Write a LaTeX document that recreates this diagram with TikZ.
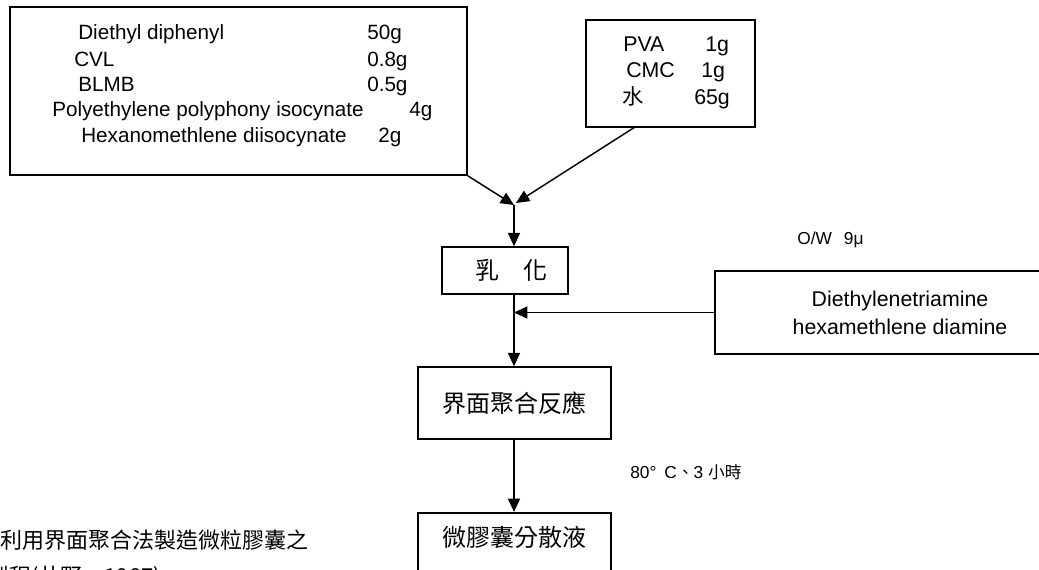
\documentclass[tikz,border=0pt]{standalone}
\usepackage{fontspec}
\setmainfont{Liberation Sans}
\newfontfamily\cjk{Noto Sans CJK TC}
\usetikzlibrary{arrows.meta}

\tikzset{
  box/.style={draw, line width=1.2pt, inner sep=4pt},
  row/.style={anchor=base west, inner sep=0pt, font=\fontsize{15.5}{18}\selectfont},
  rowb/.style={anchor=base west, inner sep=0pt, font=\fontsize{16}{19}\selectfont},
  cjkbox/.style={font=\cjk\fontsize{18}{22}\selectfont},
  note/.style={anchor=west, inner sep=0pt, font=\fontsize{13}{15}\selectfont},
  flow/.style={line width=1.1pt, -{Triangle[length=10pt,width=9pt]}},
}

\begin{document}
\begin{tikzpicture}[x=0.75pt, y=-0.75pt]
   \useasboundingbox (0,0) rectangle (1039,569);
   \clip (0,0) rectangle (1039,569);

   % 油相原料
   \node[box, minimum width=342.75pt, minimum height=126pt] (oil) at (238.5,91) {};
   \node[row] (r1) at (78,39) {Diethyl diphenyl};
   \node[row] (r1g) at (367,39) {50g};
   \node[row] (r2) at (74,66) {CVL};
   \node[row] (r2g) at (367,66) {0.8g};
   \node[row] (r3) at (78,91) {BLMB};
   \node[row] (r3g) at (367,91) {0.5g};
   \node[row] (r4) at (52,116) {Polyethylene polyphony isocynate};
   \node[row] (r4g) at (409,116) {4g};
   \node[row] (r5) at (81,142) {Hexanomethlene diisocynate};
   \node[row] (r5g) at (378,142) {2g};

   % 水相原料
   \node[box, minimum width=126.75pt, minimum height=80.25pt] (water) at (670.5,73.5) {};
   \node[rowb] (w1) at (623,51) {PVA};
   \node[rowb] (w1g) at (705,51) {1g};
   \node[rowb] (w2) at (626,77) {CMC};
   \node[rowb] (w2g) at (701,77) {1g};
   \node[rowb, font=\cjk\fontsize{16}{19}\selectfont] (w3) at (622,104) {水};
   \node[rowb] (w3g) at (694,104) {65g};

   % 主流程
   \node[box, cjkbox, minimum width=94.5pt, minimum height=35.25pt] (emul) at (505,270.5) {\hspace{9pt}乳　化\hspace{-9pt}};
   \node[box, cjkbox, minimum width=144.75pt, minimum height=54pt] (react) at (514.5,403) {界面聚合反應};
   \node[box, cjkbox, anchor=north, minimum width=144.75pt, text height=21pt, text depth=30pt] (disp) at (514.5,512) {微膠囊分散液};

   % 胺類
   \node[box, align=center, font=\fontsize{16}{21}\selectfont, minimum width=277.5pt, minimum height=62.25pt] (amine) at (900,312.5) {Diethylenetriamine\\hexamethlene diamine};

   % 條件
   \node[note] (ow) at (797,240) {O/W\hspace{9pt}9μ};
   \node[note] (cond) at (630,472) {80°\hspace{6pt}C{\cjk\fontsize{12.5}{15}\selectfont 、}3 {\cjk\fontsize{12.5}{15}\selectfont 小時}};

   % 說明
   \node[anchor=west, inner sep=0pt, font=\cjk\fontsize{16.5}{20}\selectfont] (cap1) at (0,540) {利用界面聚合法製造微粒膠囊之};
   \node[anchor=west, inner sep=0pt, font=\cjk\fontsize{16.5}{20}\selectfont] (cap2) at (-13,577) {製程(井野，1987)};

   \coordinate (join) at (514,205);
   \coordinate (wfoot) at (635,127);

   \draw[flow] (oil.south east) -- (join);
   \draw[flow] (wfoot) -- ([xshift=1.5pt,yshift=1.5pt]join);
   \draw[flow] (join) -- (join |- emul.north);
   \draw[flow] (join |- emul.south) -- (join |- react.north);
   \draw[flow] (amine.west) -- (join |- amine.west);
   \draw[flow] (join |- react.south) -- (join |- disp.north);
\end{tikzpicture}
\end{document}
